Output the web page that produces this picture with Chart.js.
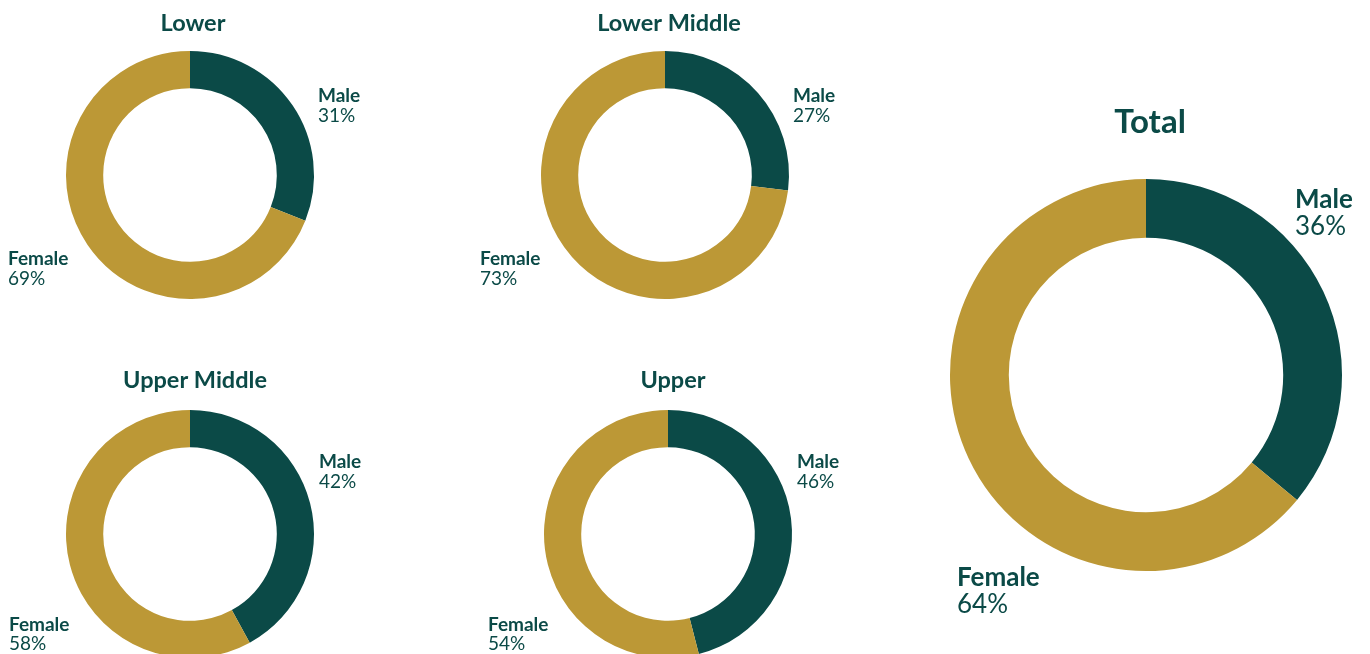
<!DOCTYPE html>
<html lang="en">
<head>
  <meta charset="UTF-8">
  <title>Gender split by group</title>
  <script src="https://cdn.jsdelivr.net/npm/chart.js"></script>
  <style>
    html, body { margin: 0; padding: 0; background: #fff; overflow: hidden; }
    body { width: 1370px; height: 654px; position: relative; }
    .box { position: absolute; }
  </style>
</head>
<body>
  <div class="box" style="left:0;top:0;width:380px;height:310px"><canvas id="c0"></canvas></div>
  <div class="box" style="left:475px;top:0;width:380px;height:310px"><canvas id="c1"></canvas></div>
  <div class="box" style="left:0;top:359px;width:380px;height:310px"><canvas id="c2"></canvas></div>
  <div class="box" style="left:478px;top:359px;width:380px;height:310px"><canvas id="c3"></canvas></div>
  <div class="box" style="left:930px;top:80px;width:436px;height:560px"><canvas id="c4"></canvas></div>

  <script>
    // data
    const groups = ['Lower', 'Lower Middle', 'Upper Middle', 'Upper', 'Total'];
    const categories = ['Male', 'Female'];
    const maleShare = [31, 27, 42, 46, 36];
    const femaleShare = [69, 73, 58, 54, 64];

    const GREEN = '#0b4a47';
    const GOLD = '#bc9836';
    const FONT = 'Lato, "Noto Sans", sans-serif';

    // label placement, relative to the doughnut centre
    const small = { title: 23.5, label: 19, pad: { top: 51, bottom: 11, left: 66, right: 66 } };
    const layout = [
      { ...small, titleDx: 3, titleDy: -144, male: [128, -73, -53], female: [-182, 90, 110] },
      { ...small, titleDx: 4, titleDy: -144, male: [128, -73, -53], female: [-185, 90, 110] },
      { ...small, titleDx: 5, titleDy: -146, male: [129, -66, -46], female: [-181, 97, 116] },
      { ...small, titleDx: 5, titleDy: -146, male: [129, -66, -46], female: [-180, 97, 116] },
      { title: 33, label: 26, pad: { top: 99, bottom: 69, left: 20, right: 24 },
        titleDx: 4, titleDy: -242, male: [149, -167, -140], female: [-189, 211, 238] }
    ];

    const labelPlugin = {
      id: 'labels',
      afterDraw(chart) {
        const i = chart.options.plugins.labels.index;
        const L = layout[i];
        const arc = chart.getDatasetMeta(0).data[0];
        const cx = arc.x, cy = arc.y;
        const ctx = chart.ctx;
        ctx.save();
        ctx.fillStyle = GREEN;
        ctx.textBaseline = 'alphabetic';

        ctx.textAlign = 'center';
        ctx.font = 'bold ' + L.title + 'px ' + FONT;
        ctx.fillText(groups[i], cx + L.titleDx, cy + L.titleDy);

        ctx.textAlign = 'left';
        const vals = [maleShare[i], femaleShare[i]];
        [L.male, L.female].forEach((p, k) => {
          ctx.font = 'bold ' + L.label + 'px ' + FONT;
          ctx.fillText(categories[k], cx + p[0], cy + p[1]);
          ctx.font = L.label + 'px ' + FONT;
          ctx.fillText(vals[k] + '%', cx + p[0], cy + p[2]);
        });
        ctx.restore();
      }
    };

    groups.forEach((g, i) => {
      new Chart(document.getElementById('c' + i), {
        type: 'doughnut',
        data: {
          labels: categories,
          datasets: [{
            data: [maleShare[i], femaleShare[i]],
            backgroundColor: [GREEN, GOLD],
            borderWidth: 0
          }]
        },
        options: {
          responsive: true,
          maintainAspectRatio: false,
          animation: false,
          cutout: '70%',
          layout: { padding: layout[i].pad },
          plugins: {
            legend: { display: false },
            tooltip: { enabled: false },
            labels: { index: i }
          }
        },
        plugins: [labelPlugin]
      });
    });
  </script>
</body>
</html>
